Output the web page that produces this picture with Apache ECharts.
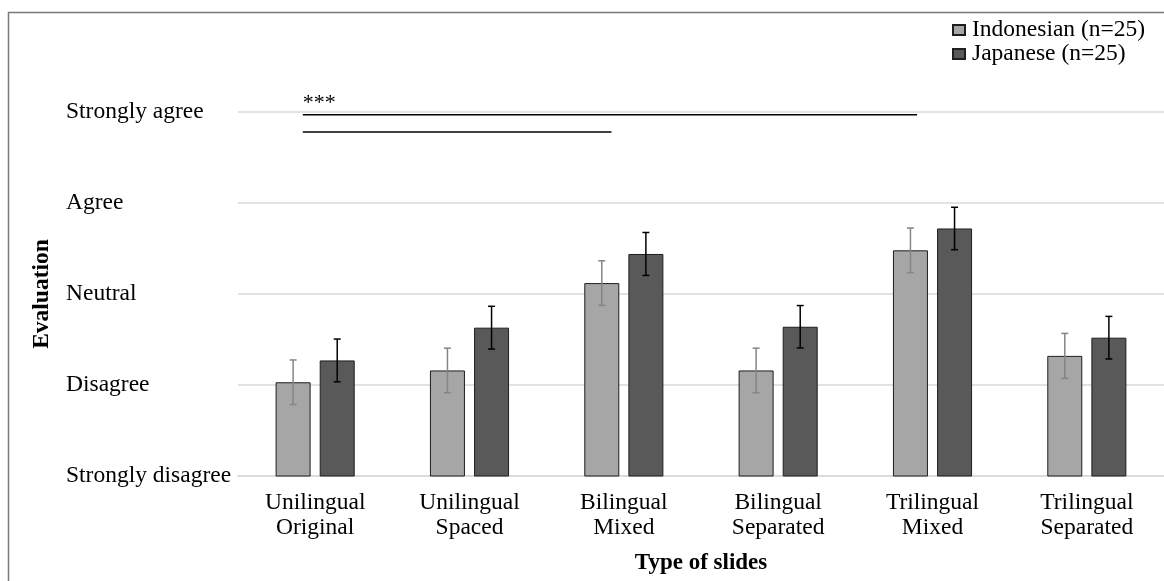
<!DOCTYPE html>
<html><head><meta charset="utf-8">
<script src="https://cdn.jsdelivr.net/npm/echarts@6/dist/echarts.min.js"></script>
<style>html,body{margin:0;padding:0;background:#fff}#c{width:1164px;height:581px}</style>
</head><body><div id="c"></div>
<script>
const categories = ['Unilingual\nOriginal','Unilingual\nSpaced','Bilingual\nMixed','Bilingual\nSeparated','Trilingual\nMixed','Trilingual\nSeparated'];
const levelLabels = ['Strongly disagree','Disagree','Neutral','Agree','Strongly agree'];
const indonesian = [2.03, 2.16, 3.12, 2.16, 3.48, 2.32];
const indonesianErr = [0.245, 0.245, 0.245, 0.245, 0.245, 0.247];
const japanese = [2.27, 2.63, 3.44, 2.64, 3.72, 2.52];
const japaneseErr = [0.235, 0.235, 0.236, 0.233, 0.233, 0.234];
const sigFrom = [-0.08, -0.08];
const sigTo = [3.9, 1.92];
const sigY = [4.97, 4.78];
const sigText = ['***', ''];

const FONT = "'Liberation Serif','Times New Roman',serif";
const BAR_W = 35;
const GAP = 0.26;
const OFF = (BAR_W + BAR_W * GAP) / 2;

function errSeries(name, vals, errs, color, sign) {
  return {
    type: 'custom', name: name + ' err', z: 5, silent: true,
    data: vals.map((v, i) => [i, v, errs[i]]),
    encode: { x: 0, y: 1 },
    renderItem: function (params, api) {
      const i = api.value(0), v = api.value(1), e = api.value(2);
      const hi = api.coord([i, v + e]);
      const lo = api.coord([i, v - e]);
      const x = hi[0] + sign * OFF;
      const st = { stroke: color, lineWidth: 1.5 };
      return { type: 'group', children: [
        { type: 'line', shape: { x1: x, y1: hi[1], x2: x, y2: lo[1] }, style: st },
        { type: 'line', shape: { x1: x - 3.5, y1: hi[1], x2: x + 3.5, y2: hi[1] }, style: st },
        { type: 'line', shape: { x1: x - 3.5, y1: lo[1], x2: x + 3.5, y2: lo[1] }, style: st }
      ]};
    }
  };
}

const chart = echarts.init(document.getElementById('c'));
chart.setOption({
  animation: false,
  backgroundColor: '#fff',
  textStyle: { fontFamily: FONT },
  graphic: [{ type: 'rect', shape: { x: 8.5, y: 12.5, width: 1200, height: 620 }, style: { fill: 'none', stroke: '#7a7a7a', lineWidth: 1.5 }, z: 100 }],
  legend: {
    orient: 'vertical', left: 947, top: 13, itemWidth: 12, itemHeight: 10, itemGap: 0, icon: 'rect',
    data: ['Indonesian (n=25)', 'Japanese (n=25)'],
    textStyle: { fontFamily: FONT, fontSize: 23.5, color: '#000', padding: [0, 0, 0, 2] }
  },
  grid: { left: 238, right: -4, top: 112, bottom: 105 },
  xAxis: [{
    type: 'category', data: categories,
    axisLine: { lineStyle: { color: '#d9d9d9', width: 1.5 } },
    axisTick: { show: false },
    axisLabel: { fontFamily: FONT, fontSize: 23.5, color: '#000', lineHeight: 25, margin: 14, interval: 0 },
    name: 'Type of slides', nameLocation: 'middle', nameGap: 76,
    nameTextStyle: { fontFamily: FONT, fontSize: 23, fontWeight: 'bold', color: '#000' }
  }, {
    type: 'value', min: -0.5, max: 5.5, show: false, position: 'top'
  }],
  yAxis: {
    type: 'value', min: 1, max: 5, interval: 1,
    axisLine: { show: false }, axisTick: { show: false },
    splitLine: { lineStyle: { color: '#d9d9d9', width: 1.5 } },
    axisLabel: { fontFamily: FONT, fontSize: 23.5, color: '#000', align: 'left', margin: 172,
      formatter: v => levelLabels[Math.round(v) - 1] },
    name: 'Evaluation', nameLocation: 'middle', nameGap: 184, nameRotate: 90,
    nameTextStyle: { fontFamily: FONT, fontSize: 23.5, fontWeight: 'bold', color: '#000' }
  },
  series: [
    { type: 'bar', name: 'Indonesian (n=25)', data: indonesian, barWidth: BAR_W, barGap: (GAP * 100) + '%',
      itemStyle: { color: '#a6a6a6', borderColor: '#1e1e1e', borderWidth: 1 } },
    { type: 'bar', name: 'Japanese (n=25)', data: japanese, barWidth: BAR_W, barGap: (GAP * 100) + '%',
      itemStyle: { color: '#595959', borderColor: '#1e1e1e', borderWidth: 1 } },
    errSeries('Indonesian', indonesian, indonesianErr, '#858585', -1),
    errSeries('Japanese', japanese, japaneseErr, '#000', 1),
    {
      type: 'custom', name: 'sig', xAxisIndex: 1, z: 6, silent: true,
      data: sigFrom.map((f, i) => [f, sigTo[i], sigY[i]]),
      encode: { x: [0, 1], y: 2 },
      renderItem: function (params, api) {
        const p1 = api.coord([api.value(0), api.value(2)]);
        const p2 = api.coord([api.value(1), api.value(2)]);
        return { type: 'group', children: [
          { type: 'line', shape: { x1: p1[0], y1: p1[1], x2: p2[0], y2: p2[1] }, style: { stroke: '#000', lineWidth: 1.5 } },
          { type: 'text', x: p1[0], y: p1[1] - 1, style: { text: sigText[params.dataIndex], fontFamily: FONT, fontSize: 22, fill: '#000', verticalAlign: 'bottom', align: 'left' } }
        ]};
      }
    }
  ]
});
</script></body></html>
